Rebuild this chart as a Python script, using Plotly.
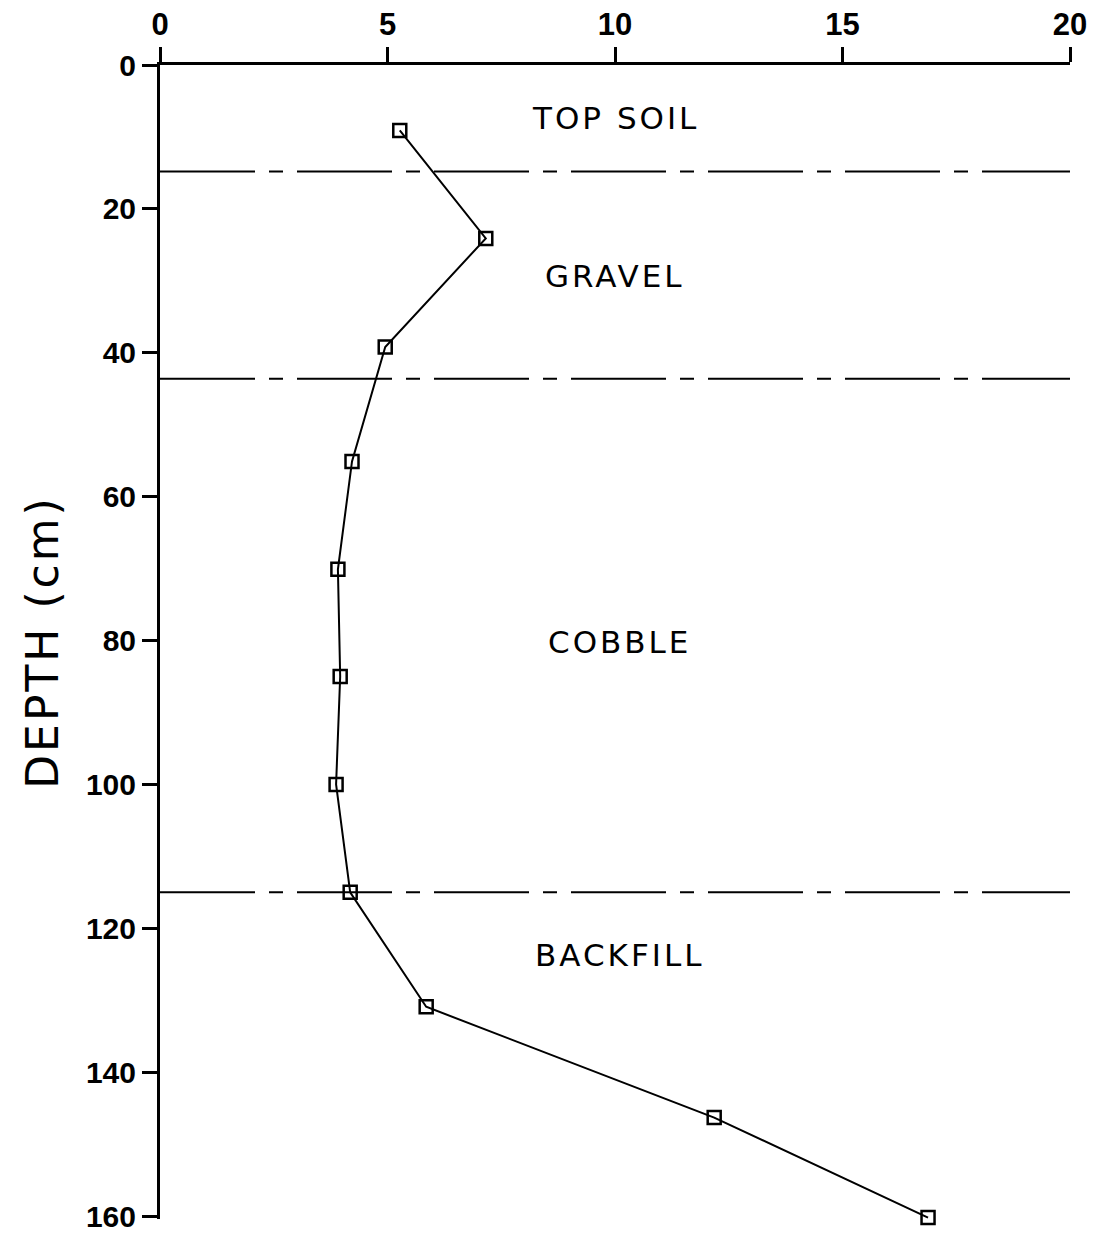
import plotly.graph_objects as go

# Data
value = [5.27, 7.16, 4.95, 4.22, 3.91, 3.96, 3.87, 4.18, 5.85, 12.18, 16.88]
depth = [9.1, 24.1, 39.2, 55.1, 70.1, 85.0, 100.0, 115.0, 130.9, 146.3, 160.2]

boundaries = [14.8, 43.6, 115.0]
layer_names = ["TOP SOIL", "GRAVEL", "COBBLE", "BACKFILL"]
layer_x = [10.0, 10.0, 10.1, 10.1]
layer_y = [7.3, 29.3, 80.2, 123.7]

x_ticks = [0, 5, 10, 15, 20]
y_ticks = [0, 20, 40, 60, 80, 100, 120, 140, 160]

FONT = "DejaVu Sans, Liberation Sans, sans-serif"
TICKFONT = "Liberation Sans, Arial, sans-serif"

fig = go.Figure()

for b in boundaries:
    fig.add_trace(go.Scatter(
        x=[0, 20], y=[b, b], mode="lines",
        line=dict(color="black", width=2, dash="95px,14px,14px,14px"),
        hoverinfo="skip", showlegend=False,
    ))

fig.add_trace(go.Scatter(
    x=value, y=depth, mode="lines+markers",
    line=dict(color="black", width=2),
    marker=dict(symbol="square-open", size=13, color="black", line=dict(width=2.5)),
    showlegend=False, cliponaxis=False,
))

for name, lx, ly in zip(layer_names, layer_x, layer_y):
    fig.add_annotation(x=lx, y=ly,
                       text='<span style="letter-spacing:3px">' + name + '</span>',
                       showarrow=False,
                       font=dict(family=FONT, size=31, color="black"))

fig.update_xaxes(
    range=[0, 20], side="top", tickvals=x_ticks, ticktext=[str(t) for t in x_ticks],
    showline=True, linecolor="black", linewidth=3, showgrid=False, zeroline=False,
    ticks="outside", ticklen=15, tickwidth=3, tickcolor="black", automargin=False,
    ticklabeloverflow="allow",
    tickfont=dict(family=TICKFONT, size=31, color="black", weight="bold"),
)
fig.update_yaxes(
    range=[160.4, 0], tickvals=y_ticks, ticktext=[str(t) for t in y_ticks],
    showline=True, linecolor="black", linewidth=3, showgrid=False, zeroline=False,
    ticks="outside", ticklen=15, tickwidth=3, tickcolor="black", automargin=False,
    ticklabeloverflow="allow",
    tickfont=dict(family=TICKFONT, size=30, color="black", weight="bold"),
    title=dict(text='<span style="letter-spacing:3px">DEPTH (cm)</span>',
               font=dict(family=FONT, size=44, color="black"), standoff=14),
)

fig.update_layout(
    width=1109, height=1234,
    margin=dict(l=160, r=39, t=65, b=15),
    plot_bgcolor="white", paper_bgcolor="white",
)

fig.write_html("out.html")
